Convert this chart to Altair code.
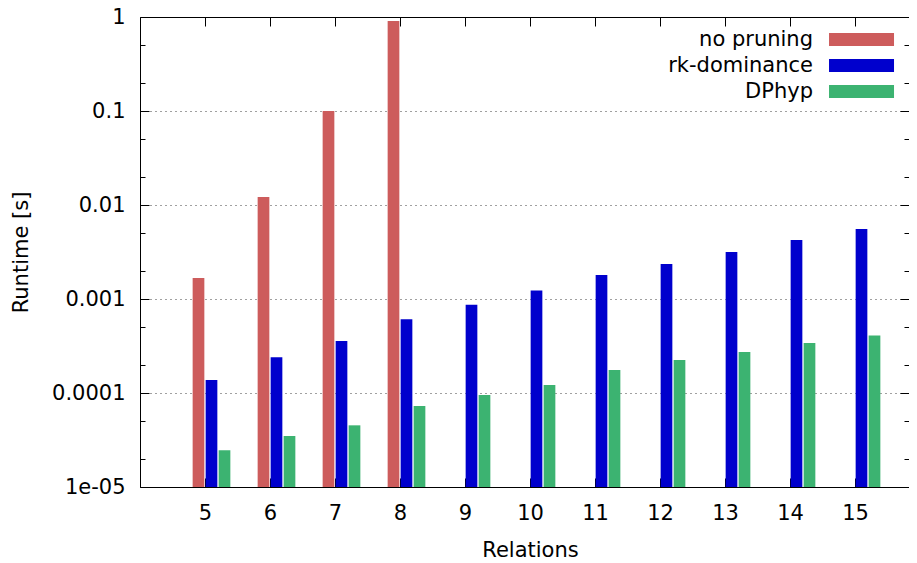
import altair as alt
import pandas as pd

# ---------------- data ----------------
relations = [5, 6, 7, 8, 9, 10, 11, 12, 13, 14, 15]
series_names = ["no pruning", "rk-dominance", "DPhyp"]
no_pruning = [0.00167, 0.0122, 0.100, 0.906, None, None, None, None, None, None, None]
rk_dominance = [1.375e-4, 2.4e-4, 3.57e-4, 6.08e-4, 8.7e-4, 1.23e-3, 1.8e-3, 2.36e-3, 3.16e-3, 4.24e-3, 5.55e-3]
dphyp = [2.46e-5, 3.49e-5, 4.53e-5, 7.27e-5, 9.5e-5, 1.22e-4, 1.76e-4, 2.24e-4, 2.73e-4, 3.4e-4, 4.1e-4]
series_colors = ["#CD5C5C", "#0000CD", "#3CB371"]
y_tick_values = [1e-5, 1e-4, 1e-3, 1e-2, 1e-1, 1]
y_tick_labels = ["1e-05", "0.0001", "0.001", "0.01", "0.1", "1"]
y_minor_values = [2e-5, 5e-5, 2e-4, 5e-4, 2e-3, 5e-3, 2e-2, 5e-2, 0.2, 0.5]
x_tick_values = relations

rows = []
for slot, (name, vals) in enumerate(zip(series_names, [no_pruning, rk_dominance, dphyp])):
    for r, v in zip(relations, vals):
        if v is not None:
            rows.append({"relation": r, "series": name, "slot": slot, "runtime": v})
df = pd.DataFrame(rows)

# ---------------- style ----------------
FONT = "DejaVu Sans"
FS = 21
PX_PER_UNIT = 65
W, H = 769, 470
MAJ, MIN = 9, 5

label_expr = "[" + ",".join("'%s'" % s for s in y_tick_labels) + "][round(log(datum.value)/LN10)+5]"

xs = alt.Scale(domain=[4, 4 + W / PX_PER_UNIT], nice=False, zero=False)
ys = alt.Scale(type="log", domain=[1e-5, 1], nice=False)

base = alt.Chart(df).transform_calculate(
    center="datum.relation + (datum.slot - 0.5) * 0.2"
).transform_calculate(
    x1="datum.center - 0.09", x2="datum.center + 0.09"
)

def tick_axis(orient, values, size, offset, domain=False):
    return alt.Axis(orient=orient, values=values, tickSize=size, offset=offset,
                    labels=False, title=None, grid=False, domain=domain,
                    domainColor="#000", domainWidth=1, tickColor="#000", tickWidth=1)

def layer(xaxis, yaxis, visible=False, color=None):
    enc = dict(
        x=alt.X("x1:Q", scale=xs, axis=xaxis),
        x2="x2:Q",
        y=alt.Y("runtime:Q", scale=ys, axis=yaxis),
        y2=alt.datum(1e-5),
    )
    if visible:
        enc["color"] = color
        return base.mark_bar(clip=True).encode(**enc)
    return base.mark_bar(opacity=0).encode(**enc)

main_x = alt.Axis(orient="bottom", values=x_tick_values, format="d", ticks=False,
                  labelPadding=15, labelFont=FONT, labelFontSize=FS, labelColor="#000",
                  title="Relations", titleFont=FONT, titleFontSize=FS, titleFontWeight="normal",
                  titleColor="#000", titleBaseline="alphabetic", titleY=69, titleX=390,
                  grid=False, domain=True, domainColor="#000", domainWidth=1)
main_y = alt.Axis(orient="left", values=y_tick_values, labelExpr=label_expr, ticks=False,
                  labelPadding=15, labelFont=FONT, labelFontSize=FS, labelColor="#000",
                  title="Runtime [s]", titleFont=FONT, titleFontSize=FS, titleFontWeight="normal",
                  titleColor="#000", titleBaseline="alphabetic", titleAngle=270,
                  titleX=-113, titleY=H / 2,
                  grid=True, gridColor="#000", gridOpacity=0.75, gridDash=[1, 4], gridWidth=1,
                  domain=True, domainColor="#000", domainWidth=1)

# legend key: a 65x13 box drawn to the right of the right-aligned label
color = alt.Color("series:N", sort=series_names,
                  scale=alt.Scale(domain=series_names, range=series_colors),
                  legend=alt.Legend(title=None, orient="none", legendX=541, legendY=12,
                                    symbolType="M4.08,-1H14.08V1H4.08Z", symbolSize=169,
                                    symbolStrokeWidth=0, symbolOpacity=1,
                                    symbolOffset=111,
                                    labelAlign="right", labelOffset=0, labelLimit=0,
                                    labelFont=FONT, labelFontSize=FS, labelColor="#000",
                                    rowPadding=4, padding=0))

bars = layer(main_x, main_y, visible=True, color=color)
l_b = layer(tick_axis("top", x_tick_values, MAJ, -H), tick_axis("right", y_tick_values, MAJ, -W))
l_c = layer(tick_axis("bottom", x_tick_values, MAJ, -H, domain=True), tick_axis("right", y_minor_values, MIN, -W))
l_d = layer(None, tick_axis("left", y_tick_values, MAJ, -W))
l_e = layer(None, tick_axis("left", y_minor_values, MIN, -W))

chart = alt.layer(bars, l_b, l_c, l_d, l_e).resolve_axis(
    x="independent", y="independent"
).properties(
    width=W, height=H,
    autosize=alt.AutoSizeParams(type="none"),
    padding={"left": 132, "top": 9, "right": 0, "bottom": 76},
).configure_view(stroke=None)

chart.save("out.html", embed_options={"renderer": "svg", "actions": False})
